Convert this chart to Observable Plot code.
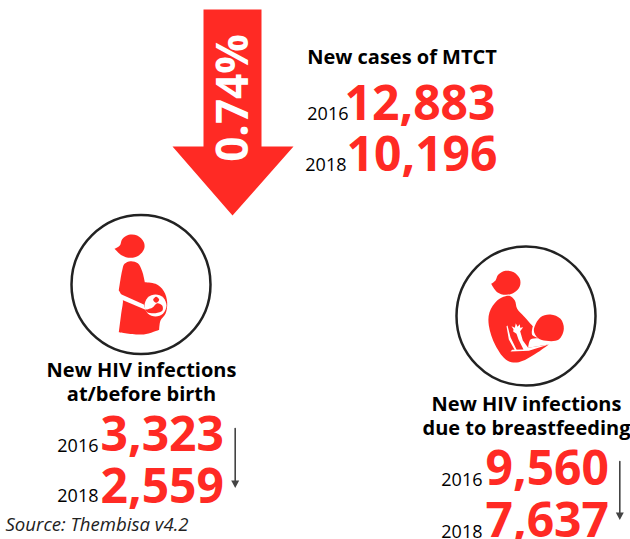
<!DOCTYPE html>
<html>
<head>
<meta charset="utf-8">
<style>html,body{margin:0;padding:0;background:#fff}svg{display:block}</style>
<script src="https://cdn.jsdelivr.net/npm/d3@7"></script>
<script src="https://cdn.jsdelivr.net/npm/@observablehq/plot@0.6"></script>
</head>
<body>
<div id="chart"></div>
<script>
const years = ["2016", "2018"];
const mtct = [12883, 10196];
const atBirth = [3323, 2559];
const breastfeeding = [9560, 7637];
const decline = "0.74%";
const titles = ["New cases of MTCT", "New HIV infections", "at/before birth", "New HIV infections", "due to breastfeeding"];
const source = "Source: Thembisa v4.2";

const RED = "#ff2a24", DARK = "#444444", INK = "#000000";
const FONT = "'Open Sans', sans-serif";
const fmt = d3.format(",");

// Icon outlines: [zoomX, zoomY] at 3x around an origin
const at = (pts, ox, oy) => pts.map(([a, b]) => ({x: ox + a / 3, y: oy + b / 3}));
const shape = (pts, fill, curve = "catmull-rom-closed") =>
  Plot.line(pts, {x: "x", y: "y", fill, stroke: "none", curve});

const arrowBig = [{x:203,y:9},{x:261,y:9},{x:261,y:146},{x:293,y:146},{x:232,y:215},{x:172,y:146},{x:203,y:146}];

const L = [110, 230];
const headL = at([[12,55],[12,55],[28,45],[35,26],[55,13],[80,15],[100,35],[101,55],[85,75],[60,82],[33,74]], ...L);
const bodyL = at([[60,92],[82,98],[95,122],[103,155],[103,155],[135,160],[160,182],[170,215],[165,250],[150,270],[146,298],[146,298],[100,312],[25,305],[25,305],[32,250],[37,205],[25,180],[25,180],[35,120],[42,100]], ...L);
const beltL = at([[20,186],[100,222],[105,238],[20,202]], ...L);
const wombL = at([[135,192],[158,201],[168,225],[158,249],[135,258],[112,249],[102,225],[112,201]], ...L);
const babyHeadL = at([[137,199],[146,208],[137,217],[128,208]], ...L);
const babyBodyL = at([[140,218],[155,225],[156,240],[135,248],[110,245],[105,238],[105,238],[125,232]], ...L);

const R = [485, 265];
const headR = at([[17,55],[17,55],[30,45],[38,28],[60,16],[85,20],[103,40],[103,62],[85,82],[60,88],[35,80]], ...R);
const bodyR = at([[60,92],[75,92],[88,105],[95,130],[115,152],[142,182],[142,182],[140,208],[158,218],[158,218],[135,222],[128,247],[128,247],[190,237],[190,237],[150,265],[100,290],[65,285],[30,240],[10,180],[12,140],[35,105]], ...R);
const babyR = at([[145,195],[165,155],[195,147],[225,160],[235,190],[220,222],[182,226],[158,218]], ...R);
const strokeR = at([[63,182],[66,180],[75,215],[94,254],[88,254],[70,222]], ...R);
const armR = at([[78,182],[88,187],[91,173],[96,184],[103,176],[104,187],[113,185],[104,197],[112,225],[128,247],[190,237],[130,256],[75,258],[80,253],[114,252],[99,222],[93,205],[83,198],[84,191]], ...R);

const chart = Plot.plot({
  width: 630,
  height: 539,
  margin: 0,
  x: {type: "identity", axis: null},
  y: {type: "identity", axis: null},
  style: {background: "#fff", fontFamily: FONT},
  marks: [
    shape(arrowBig, RED, "linear"),
    Plot.text([decline], {x: () => 233, y: () => 97.5, text: d => d, rotate: -90, fill: "#fff", fontSize: 44, fontWeight: 700, fontFamily: FONT}),

    // Circles
    Plot.dot([{x: 140.5, y: 284}, {x: 525.5, y: 315.5}], {x: "x", y: "y", r: 69.5, stroke: "#222", strokeWidth: 2.5, fill: "none"}),

    // Pregnant figure
    shape(headL, RED), shape(bodyL, RED), shape(beltL, "#fff", "linear"),
    shape(wombL, "#fff"), shape(babyHeadL, RED), shape(babyBodyL, RED),

    // Breastfeeding figure
    shape(headR, RED), shape(bodyR, RED), shape(babyR, RED),
    shape(strokeR, "#fff", "linear"), shape(armR, "#fff", "linear"),

    // Small arrows
    Plot.line([{x:234.7,y:428},{x:234.7,y:482}], {x:"x", y:"y", stroke: DARK, strokeWidth: 1.6}),
    shape([{x:230.7,y:480},{x:238.7,y:480},{x:234.7,y:487.5}], DARK, "linear"),
    Plot.line([{x:619.3,y:461},{x:619.3,y:514}], {x:"x", y:"y", stroke: DARK, strokeWidth: 1.6}),
    shape([{x:615.3,y:512},{x:623.3,y:512},{x:619.3,y:519.5}], DARK, "linear"),

    // Titles
    Plot.text([
      {t: titles[0], x: 401.5, y: 63},
      {t: titles[1], x: 141, y: 376},
      {t: titles[2], x: 141, y: 400},
      {t: titles[3], x: 526, y: 410},
      {t: titles[4], x: 526, y: 434}
    ], {x: "x", y: "y", text: "t", fontSize: 20, fontWeight: 700, fill: INK, textAnchor: "middle", lineAnchor: "bottom", fontFamily: FONT}),

    // Values
    Plot.text([
      {v: mtct[0], x: 495, y: 119.5},
      {v: mtct[1], x: 497, y: 170.5},
      {v: atBirth[0], x: 223.5, y: 450},
      {v: atBirth[1], x: 223.5, y: 502},
      {v: breastfeeding[0], x: 608.5, y: 484.5},
      {v: breastfeeding[1], x: 608.5, y: 536.5}
    ], {x: "x", y: "y", text: d => fmt(d.v), fontSize: 48, fontWeight: 700, fill: RED, textAnchor: "end", lineAnchor: "bottom", fontFamily: FONT}),

    // Years
    Plot.text([
      {t: years[0], x: 348, y: 119},
      {t: years[1], x: 346, y: 170},
      {t: years[0], x: 98, y: 451},
      {t: years[1], x: 98, y: 501},
      {t: years[0], x: 482, y: 485},
      {t: years[1], x: 482, y: 537}
    ], {x: "x", y: "y", text: "t", fontSize: 18, fill: INK, textAnchor: "end", lineAnchor: "bottom", fontFamily: FONT}),

    // Source
    Plot.text([source], {x: () => 5, y: () => 530, text: d => d, fontSize: 18.6, fontStyle: "italic", fill: "#222", textAnchor: "start", lineAnchor: "bottom", fontFamily: FONT})
  ]
});
document.getElementById("chart").appendChild(chart);
</script>
</body>
</html>
